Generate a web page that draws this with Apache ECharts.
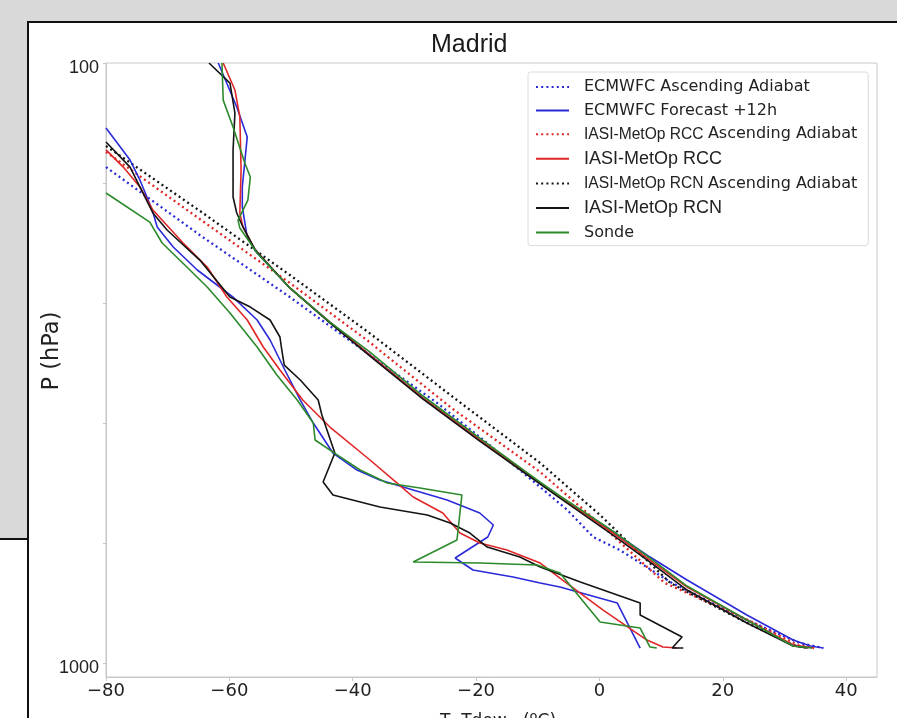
<!DOCTYPE html>
<html><head><meta charset="utf-8">
<script src="https://cdn.jsdelivr.net/npm/echarts@6/dist/echarts.min.js"></script>
<style>
html,body{margin:0;padding:0;width:897px;height:718px;overflow:hidden;background:#d9d9d9;}
#panel{position:absolute;left:27px;top:21px;width:900px;height:720px;background:#fff;border-left:2.5px solid #111;border-top:2.5px solid #111;}
#corner{position:absolute;left:0;top:538px;width:27px;height:200px;background:#fff;border-top:2px solid #111;}
#chart{position:absolute;left:0;top:0;width:897px;height:718px;}
</style></head><body>
<div id="panel"></div><div id="corner"></div><div id="chart"></div>
<script>
// ---- data: [temperature (°C), pressure (hPa)] ----
const xTickValues = [-80, -60, -40, -20, 0, 20, 40];
const yTickLabels = [100, 1000];
const yTickValues = [100, 158.5, 251.2, 398.1, 631.0, 1000];
const legendNames = ['ECMWFC Ascending Adiabat','ECMWFC Forecast +12h','IASI-MetOp RCC Ascending Adiabat','IASI-MetOp RCC','IASI-MetOp RCN Ascending Adiabat','IASI-MetOp RCN','Sonde'];

const ecmwfAdiabat = [[-80,149.1],[-64.8,193.5],[-50.2,245.5],[-37.2,306.7],[-26.3,368.7],[-19.4,420.1],[-12.9,476.8],[-5.2,555.9],[-1.0,616.6],[3.3,648.1],[11.5,732.8],[23.9,847.9],[32.5,926.1],[36.3,944.1]];
const ecmwfTemp = [[-61.8,100],[-58.8,118.4],[-57.1,132.8],[-57.9,160.9],[-57.9,173.8],[-57.1,195.0],[-55.5,207.3],[-50.2,237.1],[-43.7,270.2],[-37.2,306.7],[-28.6,361.7],[-19.4,424.9],[-9.6,501.2],[-6.4,528.8],[0.1,584.3],[8.2,665.8],[14.2,727.2],[23.9,831.8],[31.4,915.5],[34.2,936.8],[36.3,944.1]];
const ecmwfDew = [[-80,128.3],[-76.1,145.1],[-74.5,156.7],[-72.5,175.8],[-71.7,187.6],[-69.1,202.6],[-65.2,221.3],[-62.0,234.4],[-59.4,245.5],[-55.5,268.1],[-53.4,289.5],[-51.0,324.8],[-48.5,364.5],[-46.4,398.1],[-43.2,446.7],[-39.3,476.8],[-35.6,495.4],[-30.2,514.8],[-24.7,535.0],[-19.4,562.3],[-17.2,588.8],[-18.1,616.6],[-23.4,668.3],[-20.5,699.8],[-14.0,718.9],[-9.6,735.6],[-6.4,747.0],[2.9,794.3],[6.6,944.1]];

const rccAdiabat = [[-80,140.7],[-64.8,182.0],[-50.2,232.6],[-37.5,290.6],[-24.2,374.4],[-9.6,480.5],[0.1,586.6],[10.6,735.6],[24.1,847.9],[32.2,933.3],[34.8,944.1]];
const rccTemp = [[-61.0,100],[-59.1,110.9],[-58.3,123.0],[-58.1,150.8],[-58.3,177.8],[-57.8,187.6],[-55.8,205.0],[-50.2,237.1],[-43.7,270.2],[-37.2,306.7],[-28.6,361.7],[-19.4,424.9],[-9.6,501.2],[-6.4,528.8],[2.2,607.2],[8.2,673.5],[14.2,747.0],[23.9,847.9],[31.4,933.3],[34.8,944.1]];
const rccDew = [[-80,139.6],[-77.2,149.1],[-74.5,160.9],[-72.4,175.8],[-67.5,199.5],[-63.6,218.8],[-60.4,245.5],[-57.1,268.1],[-54.5,297.4],[-51.8,324.8],[-48.1,364.5],[-43.7,404.3],[-37.2,458.8],[-32.8,501.2],[-30.2,528.8],[-25.4,562.3],[-22.6,607.2],[-19.4,631.0],[-15.0,648.1],[-9.6,681.3],[-6.4,721.7],[0.6,816.0],[7.7,915.5],[10.3,940.4],[12.6,944.1]];

const rcnAdiabat = [[-80,137.5],[-64.3,177.8],[-50.2,225.6],[-37.5,280.8],[-23.1,364.5],[-9.6,464.2],[0.1,566.7],[11.5,735.6],[23.0,847.9],[31.4,933.3],[33.8,944.1]];
const rcnTemp = [[-63.3,100],[-59.9,108.0],[-59.1,121.2],[-59.4,139.6],[-59.4,167.2],[-58.8,177.8],[-57.8,187.6],[-55.8,205.0],[-50.2,237.1],[-43.7,271.2],[-37.2,307.9],[-28.6,363.1],[-19.4,426.6],[-9.6,503.1],[-6.4,530.9],[2.2,611.9],[8.2,678.7],[14.2,755.7],[23.9,857.7],[31.4,936.8],[33.8,944.1]];
const rcnDew = [[-80,135.4],[-76.1,149.1],[-72.4,177.8],[-70.1,189.8],[-64.8,213.0],[-59.9,245.5],[-56.6,255.1],[-53.4,268.1],[-51.8,286.2],[-51.5,300.8],[-51.1,318.7],[-48.5,337.5],[-45.6,364.5],[-45.0,386.1],[-42.9,446.7],[-44.8,499.3],[-43.2,524.8],[-35.6,549.5],[-27.9,566.7],[-24.2,584.3],[-21.0,607.2],[-18.2,640.7],[-12.9,665.8],[-9.6,691.8],[-3.1,732.8],[6.6,794.3],[6.6,831.8],[13.4,905.0],[11.8,944.1],[13.6,944.1]];

const sondeTemp = [[-61.2,100],[-61.0,115.3],[-59.4,127.8],[-57.5,146.8],[-56.6,154.9],[-57.0,169.2],[-58.6,182.7],[-58.3,188.4],[-55.5,207.3],[-50.2,237.1],[-43.7,270.2],[-37.2,303.2],[-28.6,358.9],[-19.4,421.7],[-9.6,499.3],[-6.4,526.8],[2.2,602.6],[8.2,668.3],[14.2,744.2],[23.9,847.9],[31.4,936.8],[34.5,944.1]];
const sondeDew = [[-80,164.7],[-72.9,184.1],[-70.9,199.5],[-66.9,218.8],[-63.6,236.2],[-59.9,261.0],[-55.5,297.4],[-52.3,331.1],[-49.0,364.5],[-46.4,398.1],[-46.1,424.9],[-43.2,445.0],[-38.8,476.8],[-34.4,501.2],[-29.1,510.9],[-22.3,524.8],[-23.1,623.7],[-30.2,678.7],[-19.4,681.3],[-10.1,686.5],[-6.4,707.9],[0.1,854.4],[6.6,874.3],[8.2,940.4],[9.3,944.1]];

// ---- styling ----
const BLUE = '#2a2ad8', RED = '#e02626', BLACK = '#141414', GREEN = '#2b8a2b';
const DOT = [2, 3.2];
function line(name, data, color, dotted) {
  return {
    name, type: 'line', data, symbol: 'none', showSymbol: false, clip: true,
    lineStyle: { color, width: dotted ? 2.3 : 1.6, type: dotted ? DOT : 'solid', cap: 'butt' },
    itemStyle: { color }, emphasis: { disabled: true }, z: dotted ? 2 : 3
  };
}
const legendRich = {
  d: { fontFamily: 'DejaVu Sans', fontSize: 16, color: '#222', lineHeight: 20 },
  a: { fontFamily: 'Liberation Sans', fontSize: 15.6, color: '#222', lineHeight: 20 },
  b: { fontFamily: 'Liberation Sans', fontSize: 18, color: '#222', lineHeight: 20 }
};
function legendFmt(n) {
  if (n.indexOf('IASI') === 0 && n.indexOf('Ascending') > 0) {
    const p = n.split(' Ascending');
    return '{a|' + p[0] + ' }{d|Ascending' + p[1] + '}';
  }
  if (n.indexOf('IASI') === 0) return '{b|' + n + '}';
  return '{d|' + n + '}';
}

const chart = echarts.init(document.getElementById('chart'), null, { renderer: 'canvas' });
chart.setOption({
  animation: false,
  backgroundColor: 'transparent',
  title: { text: 'Madrid', left: 426, top: 28, textStyle: { fontFamily: 'Liberation Sans', fontSize: 25, fontWeight: 'normal', color: '#1a1a1a' } },
  grid: { left: 106, top: 63, right: 20, bottom: 41, show: true, borderColor: '#c8c8c8', borderWidth: 1, backgroundColor: '#fff' },
  legend: {
    orient: 'vertical', left: 528, top: 72, padding: [7, 11, 5, 7], itemGap: 7.6, itemWidth: 33, itemHeight: 14,
    backgroundColor: '#fff', borderColor: '#dcdcdc', borderWidth: 1, borderRadius: 3,
    data: legendNames, formatter: legendFmt,
    itemStyle: { color: 'rgba(0,0,0,0)', borderWidth: 0, opacity: 0 },
    textStyle: { rich: legendRich, padding: [0, 0, 0, 10] }
  },
  xAxis: {
    type: 'value', min: -80, max: 45, interval: 20,
    axisLine: { show: true, onZero: false, lineStyle: { color: '#c8c8c8' } },
    axisTick: { show: true, length: 4, customValues: xTickValues, lineStyle: { color: '#c8c8c8' } },
    splitLine: { show: false },
    axisLabel: { margin: 5, fontFamily: 'DejaVu Sans', fontSize: 18, color: '#222', customValues: xTickValues,
      formatter: v => xTickValues.includes(v) ? (v < 0 ? '\u2212' + (-v) : String(v)) : '' }
  },
  yAxis: {
    type: 'log', logBase: 10, min: 100, max: 1055, inverse: true,
    axisLine: { show: true, onZero: false, lineStyle: { color: '#c8c8c8' } },
    axisTick: { show: true, length: 3, customValues: yTickValues, lineStyle: { color: '#c8c8c8' } },
    splitLine: { show: false },
    axisLabel: { margin: 7, fontFamily: 'Liberation Sans', fontSize: 18, color: '#222', verticalAlign: 'top', lineHeight: 10,
      customValues: yTickLabels,
      formatter: v => yTickLabels.includes(Math.round(v)) ? String(Math.round(v)) : '' }
  },
  graphic: [
    { type: 'text', x: 52, y: 351, rotation: Math.PI / 2,
      style: { text: 'P (hPa)', align: 'center', verticalAlign: 'middle', fontSize: 22.5, fontFamily: 'DejaVu Sans', fill: '#222' } },
    { type: 'text', x: 440, y: 713,
      style: { text: 'T, Tdew   (\u00baC)', align: 'left', verticalAlign: 'top', fontSize: 17, fontFamily: 'DejaVu Sans', fill: '#222' } }
  ],
  series: [
    line('ECMWFC Ascending Adiabat', ecmwfAdiabat, BLUE, true),
    line('ECMWFC Forecast +12h', ecmwfTemp, BLUE, false),
    line('ECMWFC Forecast +12h', ecmwfDew, BLUE, false),
    line('IASI-MetOp RCC Ascending Adiabat', rccAdiabat, RED, true),
    line('IASI-MetOp RCC', rccTemp, RED, false),
    line('IASI-MetOp RCC', rccDew, RED, false),
    line('IASI-MetOp RCN Ascending Adiabat', rcnAdiabat, BLACK, true),
    line('IASI-MetOp RCN', rcnTemp, BLACK, false),
    line('IASI-MetOp RCN', rcnDew, BLACK, false),
    line('Sonde', sondeTemp, GREEN, false),
    line('Sonde', sondeDew, GREEN, false)
  ]
});
</script></body></html>
